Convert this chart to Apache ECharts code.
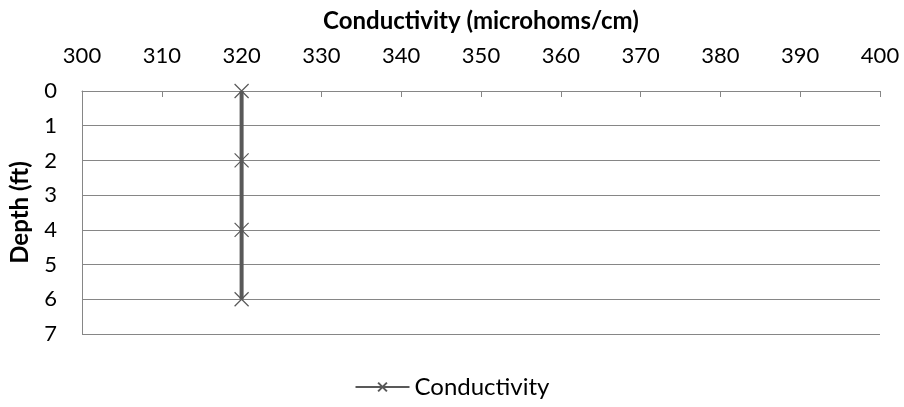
<!DOCTYPE html>
<html><head><meta charset="utf-8">
<script src="https://cdn.jsdelivr.net/npm/echarts@6/dist/echarts.min.js"></script>
<style>html,body{margin:0;padding:0;background:#fff}#c{width:904px;height:407px}</style>
</head><body><div id="c"></div>
<script>
const depths = [0, 2, 4, 6];
const conductivity = [320, 320, 320, 320];
const seriesName = 'Conductivity';
const xTitle = 'Conductivity (microhoms/cm)';
const yTitle = 'Depth (ft)';
const FONT = 'Lato';
const chart = echarts.init(document.getElementById('c'));
chart.setOption({
  animation: false,
  textStyle: {fontFamily: FONT},
  grid: {left: 82, right: 24, top: 91, bottom: 73, outerBoundsMode: 'none', containLabel: false},
  legend: {
    bottom: 3, left: 'center', itemWidth: 54, itemHeight: 11,
    textStyle: {fontFamily: FONT, fontSize: 24, color: '#000'},
    data: [seriesName]
  },
  xAxis: {
    type: 'value', position: 'top', min: 300, max: 400, interval: 10,
    name: xTitle, nameLocation: 'middle', nameGap: 58,
    nameTextStyle: {fontFamily: FONT, fontSize: 24, fontWeight: 'bold', color: '#000'},
    axisLine: {show: true, lineStyle: {color: '#868686', width: 1}},
    axisTick: {show: true, inside: true, length: 6, lineStyle: {color: '#868686'}},
    axisLabel: {fontFamily: FONT, fontSize: 22, color: '#000', margin: 24},
    splitLine: {show: false}
  },
  yAxis: {
    type: 'value', inverse: true, min: 0, max: 7, interval: 1,
    name: yTitle, nameLocation: 'middle', nameGap: 50, nameRotate: 90,
    nameTextStyle: {fontFamily: FONT, fontSize: 24, fontWeight: 'bold', color: '#000'},
    axisLine: {show: true, lineStyle: {color: '#868686', width: 1}},
    axisTick: {show: false},
    axisLabel: {fontFamily: FONT, fontSize: 22, color: '#000', margin: 25},
    splitLine: {show: true, lineStyle: {color: '#868686', width: 1}}
  },
  series: [{
    name: seriesName, type: 'line',
    data: depths.map((d, i) => [conductivity[i], d]),
    lineStyle: {color: '#595959', width: 4},
    symbol: 'path://M0,0L10,10M10,0L0,10', symbolSize: 14,
    itemStyle: {color: '#595959', borderColor: '#595959', borderWidth: 1.2}
  }]
});
</script></body></html>
